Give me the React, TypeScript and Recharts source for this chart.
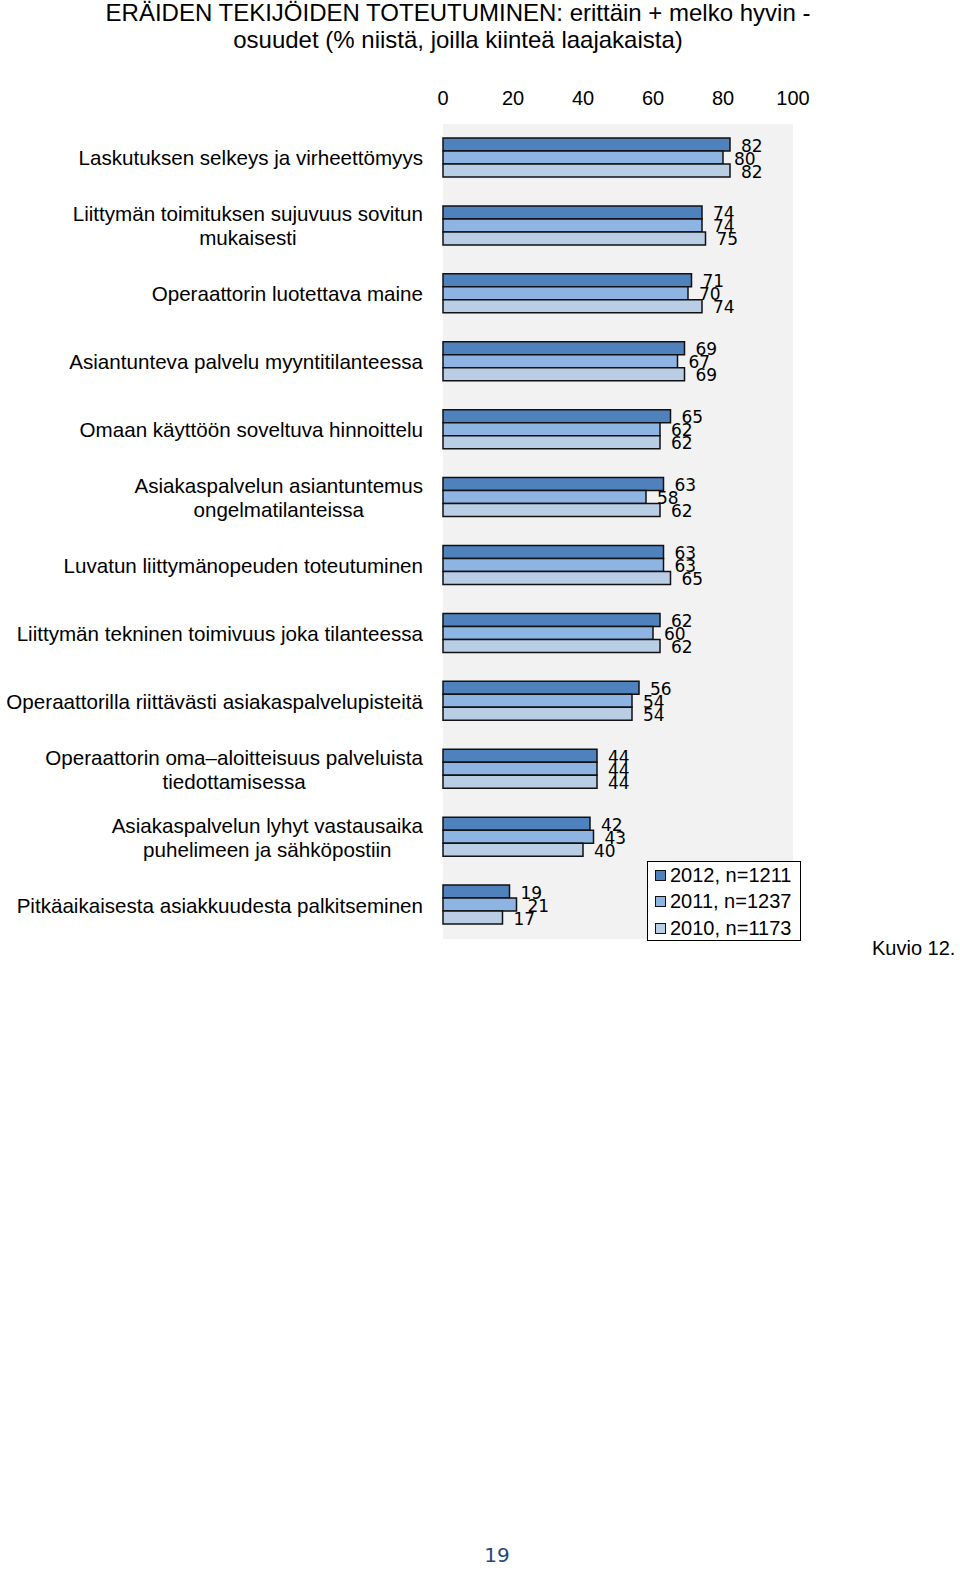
import React from 'react'
import { BarChart, Bar, XAxis, YAxis, CartesianGrid, LabelList } from 'recharts'

const categories = [
  'Laskutuksen selkeys ja virheettömyys',
  'Liittymän toimituksen sujuvuus sovitun\nmukaisesti',
  'Operaattorin luotettava maine',
  'Asiantunteva palvelu myyntitilanteessa',
  'Omaan käyttöön soveltuva hinnoittelu',
  'Asiakaspalvelun asiantuntemus\nongelmatilanteissa',
  'Luvatun liittymänopeuden toteutuminen',
  'Liittymän tekninen toimivuus joka tilanteessa',
  'Operaattorilla riittävästi asiakaspalvelupisteitä',
  'Operaattorin oma–aloitteisuus palveluista\ntiedottamisessa',
  'Asiakaspalvelun lyhyt vastausaika\npuhelimeen ja sähköpostiin',
  'Pitkäaikaisesta asiakkuudesta palkitseminen',
]
const values2012 = [82, 74, 71, 69, 65, 63, 63, 62, 56, 44, 42, 19]
const values2011 = [80, 74, 70, 67, 62, 58, 63, 60, 54, 44, 43, 21]
const values2010 = [82, 75, 74, 69, 62, 62, 65, 62, 54, 44, 40, 17]
const xTicks = [0, 20, 40, 60, 80, 100]
const seriesKeys = ['y2012', 'y2011', 'y2010']
const seriesNames = ['2012, n=1211', '2011, n=1237', '2010, n=1173']
const colors = ['#4f81bd', '#8eb4e3', '#b9cde5']

const data = categories.map((name, i) => ({
  name,
  y2012: values2012[i],
  y2011: values2011[i],
  y2010: values2010[i],
}))

const sans = '"Liberation Sans", Arial, sans-serif'
const labelFont = '"DejaVu Sans", Verdana, sans-serif'
const catSize = 20.6

let ctx: CanvasRenderingContext2D | null = null
const measure = (s: string) => {
  if (!ctx) ctx = document.createElement('canvas').getContext('2d')
  if (!ctx) return s.length * 10
  ctx.font = `${catSize}px "Liberation Sans"`
  return ctx.measureText(s).width
}

const CatTick = ({ y, payload }: any) => {
  const lines = String(payload.value).split('\n')
  const w = Math.max(...lines.map(measure))
  const cx = 423 - w / 2
  const lh = 24
  const y0 = y - ((lines.length - 1) * lh) / 2
  return (
    <g>
      {lines.map((l, i) => (
        <text key={i} x={cx} y={y0 + i * lh} textAnchor="middle" dominantBaseline="central"
          fontFamily={sans} fontSize={catSize} fill="#000">
          {l}
        </text>
      ))}
    </g>
  )
}

const ValTick = ({ x, payload }: any) => (
  <text x={x} y={98} textAnchor="middle" dominantBaseline="central" fontFamily={sans} fontSize={20} fill="#000">
    {payload.value}
  </text>
)

const BarLabel = ({ x, y, width, height, value }: any) => (
  <text x={x + width + 11} y={y + height / 2 + 1} dominantBaseline="central" fontFamily={labelFont}
    fontSize={17} fill="#000">
    {value}
  </text>
)

export default function App() {
  return (
    <div style={{ position: 'absolute', left: 0, top: 0, width: 960, height: 1575, background: '#fff', fontFamily: sans }}>
      <div style={{ position: 'absolute', left: 0, width: 916, top: -1, textAlign: 'center', fontSize: 24, lineHeight: '27px' }}>
        ERÄIDEN TEKIJÖIDEN TOTEUTUMINEN: erittäin + melko hyvin -<br />
        osuudet (% niistä, joilla kiinteä laajakaista)
      </div>
      <div style={{ position: 'absolute', left: 0, top: 0 }}>
        <BarChart width={960} height={960} data={data} layout="vertical"
          margin={{ top: 84, right: 167, bottom: 21, left: 0 }} barGap={0} barCategoryGap={14}>
          <CartesianGrid horizontal={false} vertical={false} fill="#f2f2f2" stroke="none" />
          <XAxis type="number" orientation="top" domain={[0, 100]} ticks={xTicks} axisLine={false}
            tickLine={false} tick={<ValTick />} height={40} />
          <YAxis type="category" dataKey="name" width={443} axisLine={false} tickLine={false} tick={<CatTick />} interval={0} />
          {seriesKeys.map((k, i) => (
            <Bar key={k} dataKey={k} name={seriesNames[i]} fill={colors[i]} stroke="#111" strokeWidth={1.5}
              isAnimationActive={false}>
              <LabelList dataKey={k} content={<BarLabel />} />
            </Bar>
          ))}
        </BarChart>
      </div>
      <div style={{ position: 'absolute', left: 647, top: 861, width: 154, height: 80, border: '1.5px solid #000',
        background: '#fff', boxSizing: 'border-box', padding: '0 0 0 7px' }}>
        {seriesNames.map((n, i) => (
          <div key={n} style={{ display: 'flex', alignItems: 'center', height: 26.5, fontSize: 20 }}>
            <span style={{ width: 9, height: 9, background: colors[i], border: '1px solid #111', marginRight: 4 }} />
            {n}
          </div>
        ))}
      </div>
      <div style={{ position: 'absolute', left: 872, top: 937, fontSize: 20 }}>Kuvio 12.</div>
      <div style={{ position: 'absolute', left: 0, width: 994, top: 1543, textAlign: 'center', fontSize: 20,
        fontFamily: labelFont, color: '#1f497d' }}>19</div>
    </div>
  )
}
